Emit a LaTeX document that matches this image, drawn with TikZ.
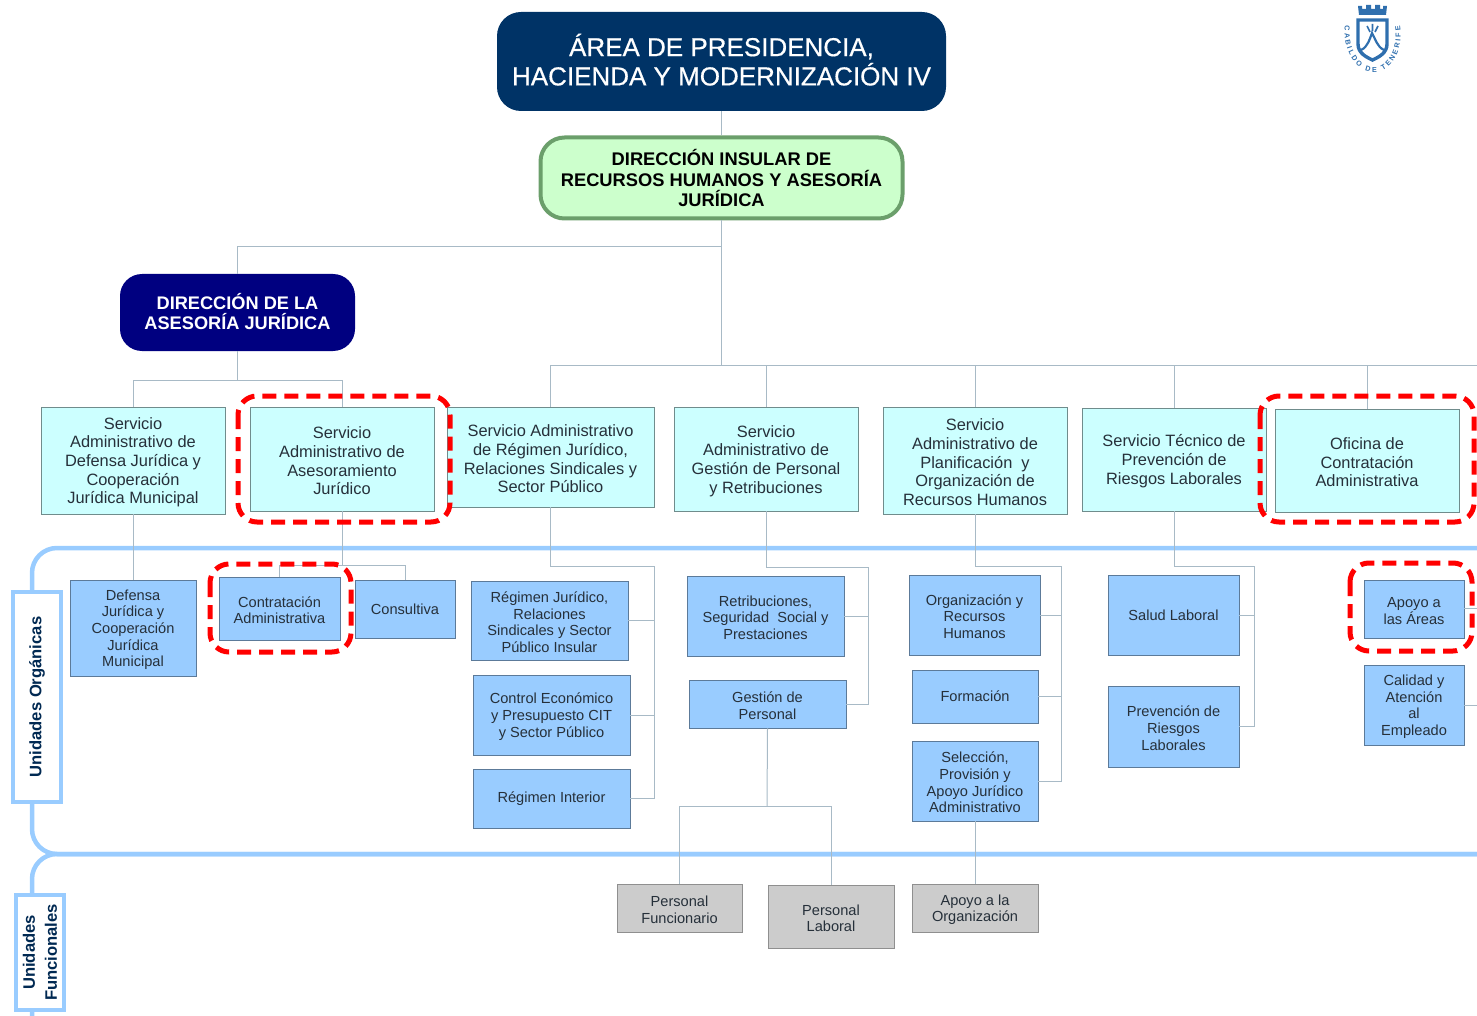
\documentclass[tikz,border=0pt]{standalone}
\usepackage{fontspec}
\setmainfont{Liberation Sans}
\newfontfamily\semibold[FakeBold=0.5]{Liberation Sans}
\usetikzlibrary{decorations.text}
\definecolor{navy1}{HTML}{003366}
\definecolor{navy2}{HTML}{000080}
\definecolor{lanec}{HTML}{99CCFF}
\definecolor{linec}{HTML}{A8BAC6}
\definecolor{cyanf}{HTML}{CCFFFF}
\definecolor{bluef}{HTML}{99CCFF}
\definecolor{greyf}{HTML}{CCCCCC}
\definecolor{txt}{HTML}{26303A}
\definecolor{logoc}{HTML}{2F6FAE}
\definecolor{dirb}{HTML}{6B9F6B}
\definecolor{dirf}{HTML}{CCFFCC}
\tikzset{
  basebox/.style={inner sep=0pt,align=center,text=txt},
  svc/.style={basebox,draw=black!45!cyanf,line width=.9pt,fill=cyanf,font=\fontsize{16.4}{18.7}\selectfont},
  unit/.style={basebox,draw=black!40!bluef,line width=.9pt,fill=bluef,font=\fontsize{14.6}{16.7}\selectfont},
  func/.style={basebox,draw=black!30!greyf,line width=.9pt,fill=greyf,font=\fontsize{14.6}{16.7}\selectfont},
  conn/.style={draw=linec,line width=1pt},
  lane/.style={draw=lanec,line width=4.5pt,rounded corners=25pt},
  lanelabel/.style={inner sep=0pt,draw=lanec,line width=4pt,fill=white,rotate=90,align=center,text=navy1!80!black,font=\fontsize{16.6}{22}\selectfont\bfseries},
  redmark/.style={draw=red,line width=5pt,dash pattern=on 14pt off 8pt,rounded corners=19pt},
}
\newcommand{\bxn}[7]{\node[#2,minimum width={(#5-#3)*1pt},minimum height={(#6-#4)*1pt}] (#1) at ({(#3+#5)/2},{(#4+#6)/2}) {#7};}
\newcommand{\bx}[7]{\bxn{#1}{#2}{#3}{#4}{#5}{#6}{\rule{0pt}{0.95em}#7}}
\begin{document}
\begin{tikzpicture}[x=1pt,y=-1pt]
\useasboundingbox (0,0) rectangle (1477,1016);
\begin{scope}
\clip (0,0) rectangle (1477,1016);
% lanes
\draw[lane] (1500,548) -- (32,548) -- (32,854) -- (1500,854);
\draw[lane] (1500,854) -- (32,854) -- (32,1040) -- (70,1040);
% nodes
\node[basebox,fill=navy1,rounded corners=24pt,minimum width=449pt,minimum height=99pt,text=white,font=\fontsize{26}{29.2}\selectfont\semibold] (title) at (721.5,61.5) {ÁREA DE PRESIDENCIA,\\HACIENDA Y MODERNIZACIÓN IV\rule[-4pt]{0pt}{0pt}};
\node[basebox,draw=dirb,fill=dirf,line width=4pt,rounded corners=24pt,minimum width=362pt,minimum height=81pt,text=black,font=\fontsize{18.3}{20.4}\selectfont\bfseries] (dir) at (721.5,178) {DIRECCIÓN INSULAR DE\\RECURSOS HUMANOS Y ASESORÍA\\JURÍDICA};
\node[basebox,fill=navy2,rounded corners=22pt,minimum width=235pt,minimum height=77pt,text=white,font=\fontsize{18.2}{20.2}\selectfont\bfseries] (ase) at (237.5,312.5) {DIRECCIÓN DE LA\\ASESORÍA JURÍDICA\rule[-2pt]{0pt}{0pt}};
\bx{s1}{svc}{41}{407}{225}{514}{Servicio\\Administrativo de\\Defensa Jurídica y\\Cooperación\\Jurídica Municipal}
\bx{s2}{svc}{250}{407}{434}{511}{Servicio\\Administrativo de\\Asesoramiento\\Jurídico}
\bx{s3}{svc}{447}{407}{654}{507}{Servicio Administrativo\\de Régimen Jurídico,\\Relaciones Sindicales y\\Sector Público}
\bx{s4}{svc}{674}{407}{858}{511}{Servicio\\Administrativo de\\Gestión de Personal\\y Retribuciones}
\bx{s5}{svc}{883}{407}{1067}{514}{Servicio\\Administrativo de\\Planificación\ \ y\\Organización de\\Recursos Humanos}
\bx{s6}{svc}{1082}{408}{1266}{511}{Servicio Técnico de\\Prevención de\\Riesgos Laborales}
\bx{s7}{svc}{1275}{409}{1459}{512}{Oficina de\\Contratación\\Administrativa}
\bx{u1}{unit}{70}{580}{196}{676}{Defensa\\Jurídica y\\Cooperación\\Jurídica\\Municipal}
\bx{u2}{unit}{219}{577}{340}{640}{Contratación\\Administrativa}
\bxn{u3}{unit}{355}{580}{455}{638}{Consultiva}
\bx{r1}{unit}{471}{581}{628}{660}{Régimen Jurídico,\\Relaciones\\Sindicales y Sector\\Público Insular}
\bx{r2}{unit}{473}{675}{630}{755}{Control Económico\\y Presupuesto CIT\\y Sector Público}
\bxn{r3}{unit}{473}{769}{630}{828}{Régimen Interior}
\bx{g1}{unit}{687}{576}{844}{656}{Retribuciones,\\Seguridad\ \ Social y\\Prestaciones}
\bx{g2}{unit}{689}{680}{846}{728}{Gestión de\\Personal}
\bx{o1}{unit}{909}{575}{1040}{655}{Organización y\\Recursos\\Humanos}
\bxn{o2}{unit}{912}{670}{1038}{723}{Formación}
\bx{o3}{unit}{912}{741}{1038}{821}{Selección,\\Provisión y\\Apoyo Jurídico\\Administrativo}
\bxn{l1}{unit}{1108}{575}{1239}{655}{Salud Laboral}
\bx{l2}{unit}{1108}{686}{1239}{767}{Prevención de\\Riesgos\\Laborales}
\bx{a1}{unit}{1364}{580}{1464}{638}{Apoyo a\\las Áreas}
\bx{a2}{unit}{1364}{665}{1464}{745}{Calidad y\\Atención\\al\\Empleado}
\bx{p1}{func}{617}{884}{742}{932}{Personal\\Funcionario}
\bx{p2}{func}{768}{885}{894}{948}{Personal\\Laboral}
\bx{p3}{func}{912}{884}{1038}{932}{Apoyo a la\\Organización}
% junctions
\coordinate (jh) at (721.5,365);
\coordinate (jr) at (1477,365);
\coordinate (ja) at (721.5,247);
\coordinate (jb) at (237.5,380);
\coordinate (j2) at (342,565);
\coordinate (j3) at (654,566);
\coordinate (j4) at (868,567);
\coordinate (j5) at (1061,566);
\coordinate (j6) at (1254,566);
\coordinate (jg) at (767,806);
\coordinate (ea1) at (1477,608);
\coordinate (ea2) at (1477,705);
% connectors
\draw[conn] (title.south) -- (dir.north);
\draw[conn] (dir.south) -- (jh);
\draw[conn] (ja) -| (ase.north);
\draw[conn] (ase.south) -- (jb);
\draw[conn] (s1.north) |- (jb);
\draw[conn] (s2.north) |- (jb);
\draw[conn] (s3.north) |- (jr);
\draw[conn] (s4.north) -- (s4.north |- jr);
\draw[conn] (s5.north) -- (s5.north |- jr);
\draw[conn] (s6.north) -- (s6.north |- jr);
\draw[conn] (s7.north) -- (s7.north |- jr);
\draw[conn] (s1.south) -- (u1.north);
\draw[conn] (s2.south) -- (j2);
\draw[conn] (u2.north) |- (j2);
\draw[conn] (u3.north) |- (j2);
\draw[conn] (s3.south) |- (j3) |- (r3.east);
\draw[conn] (r1.east) -- (r1.east -| j3);
\draw[conn] (r2.east) -- (r2.east -| j3);
\draw[conn] (s4.south) |- (j4) |- (g2.east);
\draw[conn] (g1.east) -- (g1.east -| j4);
\draw[conn] (g2.south) -- (jg);
\draw[conn] (p1.north) |- (jg);
\draw[conn] (p2.north) |- (jg);
\draw[conn] (s5.south) |- (j5) |- (o3.east);
\draw[conn] (o1.east) -- (o1.east -| j5);
\draw[conn] (o2.east) -- (o2.east -| j5);
\draw[conn] (o3.south) -- (p3.north);
\draw[conn] (s6.south) |- (j6) |- (l2.east);
\draw[conn] (l1.east) -- (l1.east -| j6);
\draw[conn] (a1.east |- ea1) -- (ea1);
\draw[conn] (a2.east |- ea2) -- (ea2);
% lane labels
\node[lanelabel,minimum width=210pt,minimum height=48pt] (lo) at (37,697) {Unidades Orgánicas};
\node[lanelabel,minimum width=115pt,minimum height=48pt] (lf) at (40,952.5) {Unidades\\Funcionales};
% red marks
\draw[redmark] (238,396) rectangle (450,522);
\draw[redmark] (1260,396) rectangle (1474,522);
\draw[redmark] (210,564) rectangle (351,652);
\draw[redmark] (1350,563) rectangle (1472,651);
% logo
\begin{scope}[logoc]
\fill (1358,6) -- (1362,6) -- (1362,9) -- (1366,9) -- (1366,5) -- (1371,5) -- (1371,9) -- (1375,9) -- (1375,5) -- (1380,5) -- (1380,9) -- (1383,9) -- (1383,6) -- (1387,6) -- (1386,15) -- (1359,15) -- cycle;
\draw[line width=3.4pt] (1358,20) -- (1387,20) -- (1387,44) .. controls (1387,53) and (1379,57) .. (1372.5,60) .. controls (1366,57) and (1358,53) .. (1358,44) -- cycle;
\draw[line width=2.2pt] (1361,50) .. controls (1368,47) and (1370,38) .. (1372,33) .. controls (1375,38) and (1377,47) .. (1384,50);
\draw[line width=1.6pt] (1367,26) -- (1370,32) (1372.5,24) -- (1372.5,31) (1378,26) -- (1375,32);
\path[decorate,decoration={text along path,text align=fit to path,text={|\fontsize{7.2}{9}\selectfont\bfseries\color{logoc}|CABILDO DE TENERIFE}}]
  (1345,26) .. controls (1342,52) and (1358,73) .. (1373,72) .. controls (1390,73) and (1404,52) .. (1400,26);
\end{scope}
\end{scope}
\end{tikzpicture}
\end{document}
